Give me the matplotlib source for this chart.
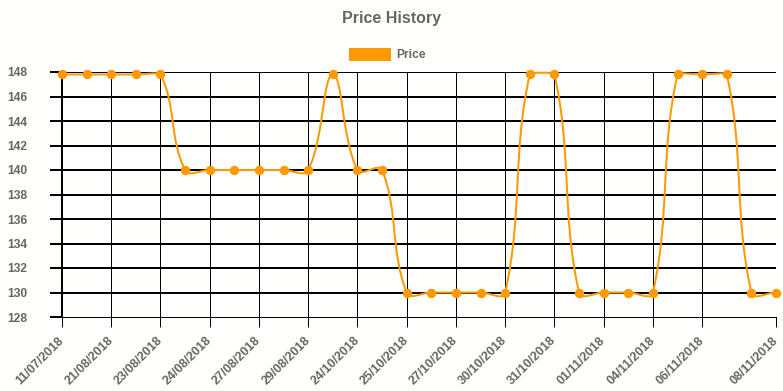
import numpy as np
import matplotlib
matplotlib.use('Agg')
import matplotlib.pyplot as plt
from matplotlib.path import Path
from matplotlib.patches import PathPatch, Rectangle

# labels hidden by the chart's auto-skip are left empty
dates = ['11/07/2018', '', '21/08/2018', '', '23/08/2018', '', '24/08/2018', '',
         '27/08/2018', '', '29/08/2018', '', '24/10/2018', '', '25/10/2018', '',
         '27/10/2018', '', '30/10/2018', '', '31/10/2018', '', '01/11/2018', '',
         '04/11/2018', '', '06/11/2018', '', '', '08/11/2018']
prices = [147.8, 147.8, 147.8, 147.8, 147.8,
          140, 140, 140, 140, 140, 140,
          147.8, 140, 140,
          130, 130, 130, 130, 130,
          147.8, 147.8,
          130, 130, 130, 130,
          147.8, 147.8, 147.8,
          130, 130]
y_ticks = list(range(128, 149, 2))

GREY = '#666666'
ORANGE = '#ff9900'
FONT = 'Liberation Sans'
W, H = 783, 391
px = 72 / 100  # points per pixel

fig = plt.figure(figsize=(W / 100, H / 100), dpi=100, facecolor='#fffffd')
ax = fig.add_axes([62 / W, (H - 317) / H, (776 - 62) / W, (317 - 72) / H])
ax.set_facecolor('#fffffd')

x = np.arange(len(prices))
ax.set_xlim(0, len(prices) - 1)
ax.set_ylim(128, 148)

# grid and axes
ax.set_yticks(y_ticks)
ax.set_yticklabels([str(v) for v in y_ticks], fontsize=12 * px, fontweight='bold',
                   color=GREY, family=FONT)
tick_pos = [i for i, d in enumerate(dates) if d]
ax.set_xticks(tick_pos)
ax.set_xticklabels([dates[i] for i in tick_pos], fontsize=12.5 * px, fontweight='bold',
                   color=GREY, family=FONT, rotation=45, ha='right', va='center',
                   rotation_mode='anchor')
ax.tick_params(axis='y', length=12 * px, width=2 * px, color='black', pad=23 * px)
ax.tick_params(axis='x', length=10 * px, width=1 * px, color='black', pad=12 * px)
ax.yaxis.grid(True, color='black', linewidth=2 * px)
ax.xaxis.grid(True, color='black', linewidth=1 * px)
ax.yaxis.get_gridlines()[0].set_visible(False)
ax.set_axisbelow(True)
for side in ['top', 'right']:
    ax.spines[side].set_visible(False)
ax.spines['left'].set_linewidth(2 * px)
ax.spines['bottom'].set_linewidth(1 * px)

# Chart.js-style spline (tension 0.4) computed in pixel space
pts = ax.transData.transform(np.column_stack([x, prices]))
x0, y0 = ax.transData.transform((0, 128))
x1, y1 = ax.transData.transform((len(prices) - 1, 148))
tension = 0.4
cp_prev, cp_next = [], []
n = len(pts)
for i in range(n):
    p = pts[max(i - 1, 0)]
    c = pts[i]
    nx = pts[min(i + 1, n - 1)]
    d01 = np.hypot(*(c - p))
    d12 = np.hypot(*(nx - c))
    tot = d01 + d12
    s01 = d01 / tot if tot else 0
    s12 = d12 / tot if tot else 0
    a = c - tension * s01 * (nx - p)
    b = c + tension * s12 * (nx - p)
    for q in (a, b):
        q[0] = min(max(q[0], x0), x1)
        q[1] = min(max(q[1], y0), y1)
    cp_prev.append(a)
    cp_next.append(b)

verts = [pts[0]]
codes = [Path.MOVETO]
for i in range(n - 1):
    verts += [cp_next[i], cp_prev[i + 1], pts[i + 1]]
    codes += [Path.CURVE4] * 3
verts = ax.transData.inverted().transform(np.array(verts))
ax.add_patch(PathPatch(Path(verts, codes), facecolor='none', edgecolor=ORANGE,
                       linewidth=2 * px, clip_on=False, zorder=3))
ax.plot(x, prices, linestyle='none', marker='o', markersize=8 * px,
        color=ORANGE, clip_on=False, zorder=4)

# title and legend
fig.text(391.5 / W, 1 - 19 / H, 'Price History', ha='center', va='center',
         fontsize=16 * px, fontweight='bold', color=GREY, family=FONT)
fig.patches.append(Rectangle((349 / W, 1 - 61 / H), 42 / W, 13 / H,
                             transform=fig.transFigure, facecolor=ORANGE,
                             edgecolor='none'))
fig.text(396 / W, 1 - 54.5 / H, 'Price', ha='left', va='center',
         fontsize=12 * px, fontweight='bold', color=GREY, family=FONT)

fig.savefig('out.png', dpi=100, facecolor=fig.get_facecolor())
